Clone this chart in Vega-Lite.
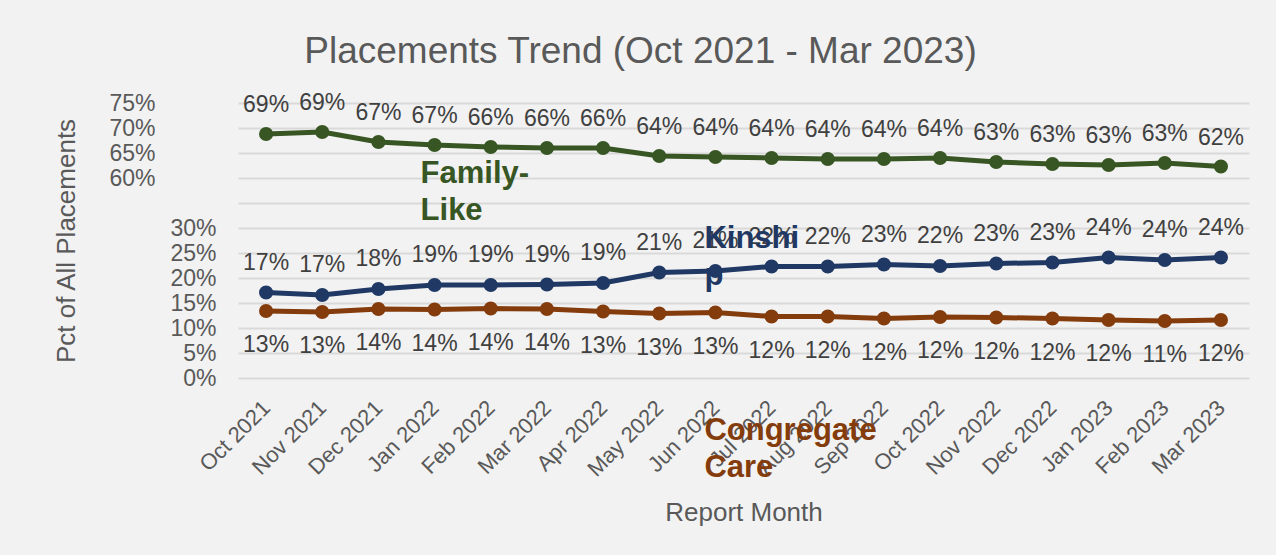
{
  "$schema": "https://vega.github.io/schema/vega-lite/v6.json",
  "width": 1011,
  "height": 275,
  "autosize": "none",
  "padding": {"left": 238, "top": 103, "right": 27, "bottom": 177},
  "background": "#f2f2f2",
  "config": {"view": {"stroke": null}, "font": "Liberation Sans"},
  "title": {
    "text": "Placements Trend (Oct 2021 - Mar 2023)",
    "fontSize": 37,
    "fontWeight": "normal",
    "color": "#595959",
    "font": "Liberation Sans",
    "anchor": "middle",
    "frame": "group",
    "baseline": "alphabetic",
    "dx": -103,
    "offset": -8
  },
  "datasets": {
    "main": [
      {"month": "2021-10-15", "series": "Family-Like", "value": 0.688},
      {"month": "2021-11-15", "series": "Family-Like", "value": 0.692},
      {"month": "2021-12-15", "series": "Family-Like", "value": 0.672},
      {"month": "2022-01-15", "series": "Family-Like", "value": 0.666},
      {"month": "2022-02-15", "series": "Family-Like", "value": 0.662},
      {"month": "2022-03-15", "series": "Family-Like", "value": 0.660},
      {"month": "2022-04-15", "series": "Family-Like", "value": 0.660},
      {"month": "2022-05-15", "series": "Family-Like", "value": 0.644},
      {"month": "2022-06-15", "series": "Family-Like", "value": 0.642},
      {"month": "2022-07-15", "series": "Family-Like", "value": 0.640},
      {"month": "2022-08-15", "series": "Family-Like", "value": 0.638},
      {"month": "2022-09-15", "series": "Family-Like", "value": 0.638},
      {"month": "2022-10-15", "series": "Family-Like", "value": 0.640},
      {"month": "2022-11-15", "series": "Family-Like", "value": 0.632},
      {"month": "2022-12-15", "series": "Family-Like", "value": 0.628},
      {"month": "2023-01-15", "series": "Family-Like", "value": 0.626},
      {"month": "2023-02-15", "series": "Family-Like", "value": 0.630},
      {"month": "2023-03-15", "series": "Family-Like", "value": 0.623},
      {"month": "2021-10-15", "series": "Kinship", "value": 0.171},
      {"month": "2021-11-15", "series": "Kinship", "value": 0.166},
      {"month": "2021-12-15", "series": "Kinship", "value": 0.178},
      {"month": "2022-01-15", "series": "Kinship", "value": 0.186},
      {"month": "2022-02-15", "series": "Kinship", "value": 0.186},
      {"month": "2022-03-15", "series": "Kinship", "value": 0.187},
      {"month": "2022-04-15", "series": "Kinship", "value": 0.190},
      {"month": "2022-05-15", "series": "Kinship", "value": 0.211},
      {"month": "2022-06-15", "series": "Kinship", "value": 0.214},
      {"month": "2022-07-15", "series": "Kinship", "value": 0.223},
      {"month": "2022-08-15", "series": "Kinship", "value": 0.223},
      {"month": "2022-09-15", "series": "Kinship", "value": 0.227},
      {"month": "2022-10-15", "series": "Kinship", "value": 0.224},
      {"month": "2022-11-15", "series": "Kinship", "value": 0.229},
      {"month": "2022-12-15", "series": "Kinship", "value": 0.231},
      {"month": "2023-01-15", "series": "Kinship", "value": 0.241},
      {"month": "2023-02-15", "series": "Kinship", "value": 0.236},
      {"month": "2023-03-15", "series": "Kinship", "value": 0.241},
      {"month": "2021-10-15", "series": "Congregate Care", "value": 0.134},
      {"month": "2021-11-15", "series": "Congregate Care", "value": 0.132},
      {"month": "2021-12-15", "series": "Congregate Care", "value": 0.138},
      {"month": "2022-01-15", "series": "Congregate Care", "value": 0.137},
      {"month": "2022-02-15", "series": "Congregate Care", "value": 0.139},
      {"month": "2022-03-15", "series": "Congregate Care", "value": 0.138},
      {"month": "2022-04-15", "series": "Congregate Care", "value": 0.133},
      {"month": "2022-05-15", "series": "Congregate Care", "value": 0.129},
      {"month": "2022-06-15", "series": "Congregate Care", "value": 0.131},
      {"month": "2022-07-15", "series": "Congregate Care", "value": 0.123},
      {"month": "2022-08-15", "series": "Congregate Care", "value": 0.123},
      {"month": "2022-09-15", "series": "Congregate Care", "value": 0.119},
      {"month": "2022-10-15", "series": "Congregate Care", "value": 0.122},
      {"month": "2022-11-15", "series": "Congregate Care", "value": 0.121},
      {"month": "2022-12-15", "series": "Congregate Care", "value": 0.119},
      {"month": "2023-01-15", "series": "Congregate Care", "value": 0.116},
      {"month": "2023-02-15", "series": "Congregate Care", "value": 0.114},
      {"month": "2023-03-15", "series": "Congregate Care", "value": 0.116}
    ],
    "seriesLabels": [
      {"series": "Family-Like", "text": "Family-\nLike", "month": "2022-01-15", "value": 0.59},
      {"series": "Kinship", "text": "Kinshi\np", "month": "2022-06-15", "value": 0.26},
      {"series": "Congregate Care", "text": "Congregate\nCare", "month": "2022-06-15", "value": -0.124}
    ]
  },
  "resolve": {"scale": {"y": "independent"}, "axis": {"y": "independent"}},
  "layer": [
    {
      "encoding": {
        "x": {
          "field": "month", "type": "ordinal", "timeUnit": "yearmonth",
          "axis": {
            "title": "Report Month", "labelAngle": -45, "labelAlign": "right", "labelBaseline": "middle",
            "labelFontSize": 22, "labelColor": "#595959", "labelPadding": 26, "labelOverlap": false, "ticks": false, "domain": false, "grid": false,
            "titleFontSize": 26, "titleColor": "#595959", "titleFontWeight": "normal", "titlePadding": 19
          }
        },
        "y": {
          "field": "value", "type": "quantitative",
          "scale": {"domain": [0, 0.55], "nice": false, "zero": false},
          "axis": {
            "orient": "left",
            "values": [0, 0.05, 0.1, 0.15, 0.2, 0.25, 0.3, 0.35, 0.4, 0.45, 0.5, 0.55],
            "format": ".0%",
            "labelExpr": "datum.value > 0.31 ? '' : datum.label",
            "grid": true, "gridColor": "#d9d9d9", "gridWidth": 2,
            "ticks": false, "domain": false,
            "labelFontSize": 23, "labelColor": "#595959", "labelPadding": 22,
            "title": "Pct of All Placements", "titleFontSize": 26, "titleColor": "#595959", "titleFontWeight": "normal", "titlePadding": 90
          }
        },
        "color": {
          "field": "series", "type": "nominal",
          "scale": {"domain": ["Family-Like", "Kinship", "Congregate Care"], "range": ["#375623", "#1f3864", "#843c0c"]},
          "legend": null
        }
      },
      "layer": [
        {
          "data": {"name": "main"},
          "transform": [{"filter": "datum.series !== 'Family-Like'"}],
          "mark": {"type": "line", "strokeWidth": 5}
        },
        {
          "data": {"name": "main"},
          "transform": [{"filter": "datum.series !== 'Family-Like'"}],
          "mark": {"type": "point", "filled": true, "size": 200, "opacity": 1}
        },
        {
          "data": {"name": "main"},
          "transform": [{"filter": "datum.series === 'Kinship'"}],
          "mark": {"type": "text", "fontSize": 23, "baseline": "alphabetic", "dy": -23},
          "encoding": {"text": {"field": "value", "type": "quantitative", "format": ".0%"}, "color": {"value": "#404040"}}
        },
        {
          "data": {"name": "main"},
          "transform": [{"filter": "datum.series === 'Congregate Care'"}],
          "mark": {"type": "text", "fontSize": 23, "baseline": "alphabetic", "dy": 41},
          "encoding": {"text": {"field": "value", "type": "quantitative", "format": ".0%"}, "color": {"value": "#404040"}}
        },
        {
          "data": {"name": "seriesLabels"},
          "transform": [{"filter": "datum.series !== 'Family-Like'"}],
          "mark": {"type": "text", "fontSize": 31, "fontWeight": "bold", "align": "left", "baseline": "alphabetic", "lineBreak": "\n", "lineHeight": 37, "dx": -11},
          "encoding": {"text": {"field": "text", "type": "nominal"}}
        }
      ]
    },
    {
      "encoding": {
        "x": {
          "field": "month", "type": "ordinal", "timeUnit": "yearmonth",
          "axis": {
            "title": "Report Month", "labelAngle": -45, "labelAlign": "right", "labelBaseline": "middle",
            "labelFontSize": 22, "labelColor": "#595959", "labelPadding": 26, "labelOverlap": false, "ticks": false, "domain": false, "grid": false,
            "titleFontSize": 26, "titleColor": "#595959", "titleFontWeight": "normal", "titlePadding": 19
          }
        },
        "y": {
          "field": "value", "type": "quantitative",
          "scale": {"domain": [0.2, 0.75], "nice": false, "zero": false},
          "axis": {
            "orient": "left", "offset": 61,
            "values": [0.6, 0.65, 0.7, 0.75],
            "format": ".0%",
            "grid": false, "ticks": false, "domain": false,
            "labelFontSize": 23, "labelColor": "#595959", "labelPadding": 22,
            "title": null
          }
        },
        "color": {
          "field": "series", "type": "nominal",
          "scale": {"domain": ["Family-Like", "Kinship", "Congregate Care"], "range": ["#375623", "#1f3864", "#843c0c"]},
          "legend": null
        }
      },
      "layer": [
        {
          "data": {"name": "main"},
          "transform": [{"filter": "datum.series === 'Family-Like'"}],
          "mark": {"type": "line", "strokeWidth": 5}
        },
        {
          "data": {"name": "main"},
          "transform": [{"filter": "datum.series === 'Family-Like'"}],
          "mark": {"type": "point", "filled": true, "size": 200, "opacity": 1}
        },
        {
          "data": {"name": "main"},
          "transform": [{"filter": "datum.series === 'Family-Like'"}],
          "mark": {"type": "text", "fontSize": 23, "baseline": "alphabetic", "dy": -22},
          "encoding": {"text": {"field": "value", "type": "quantitative", "format": ".0%"}, "color": {"value": "#404040"}}
        },
        {
          "data": {"name": "seriesLabels"},
          "transform": [{"filter": "datum.series === 'Family-Like'"}],
          "mark": {"type": "text", "fontSize": 31, "fontWeight": "bold", "align": "left", "baseline": "alphabetic", "lineBreak": "\n", "lineHeight": 37, "dx": -14},
          "encoding": {"text": {"field": "text", "type": "nominal"}}
        }
      ]
    }
  ]
}
